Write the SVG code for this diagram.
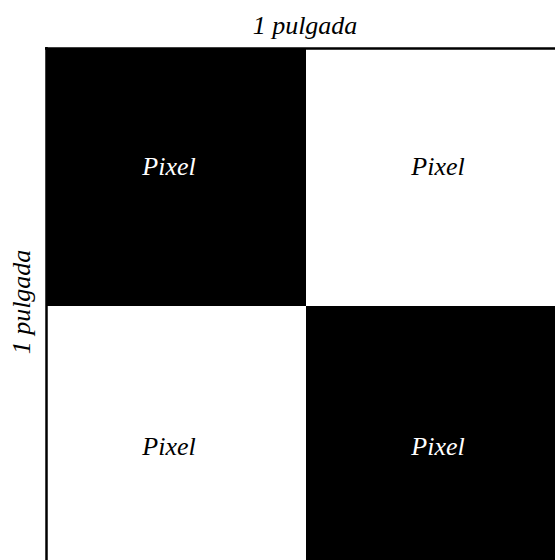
<svg xmlns="http://www.w3.org/2000/svg" width="555" height="560" viewBox="0 0 555 560">
<style>
text{font-family:'Liberation Serif','Times New Roman',serif;font-style:italic;font-size:26px;text-anchor:middle}
.w{fill:#fff}
.k{fill:#000}
</style>
<rect width="555" height="560" fill="#fff"/>
<g id="pixel-tl"><rect x="46" y="48" width="260" height="258" class="k"/><text x="169" y="175" class="w">Pixel</text></g>
<g id="pixel-tr"><rect x="306" y="48" width="249" height="258" class="w"/><text x="438" y="175" class="k">Pixel</text></g>
<g id="pixel-bl"><rect x="46" y="306" width="260" height="254" class="w"/><text x="169" y="455" class="k">Pixel</text></g>
<g id="pixel-br"><rect x="306" y="306" width="249" height="254" class="k"/><text x="438" y="455" class="w">Pixel</text></g>
<g id="frame" stroke="#000" stroke-width="2.5" fill="none">
<line x1="45" y1="48.5" x2="555" y2="48.5"/>
<line x1="46.5" y1="47" x2="46.5" y2="560"/>
</g>
<text x="305" y="34" class="k">1 pulgada</text>
<text transform="translate(30,302) rotate(-90)" class="k">1 pulgada</text>
</svg>
